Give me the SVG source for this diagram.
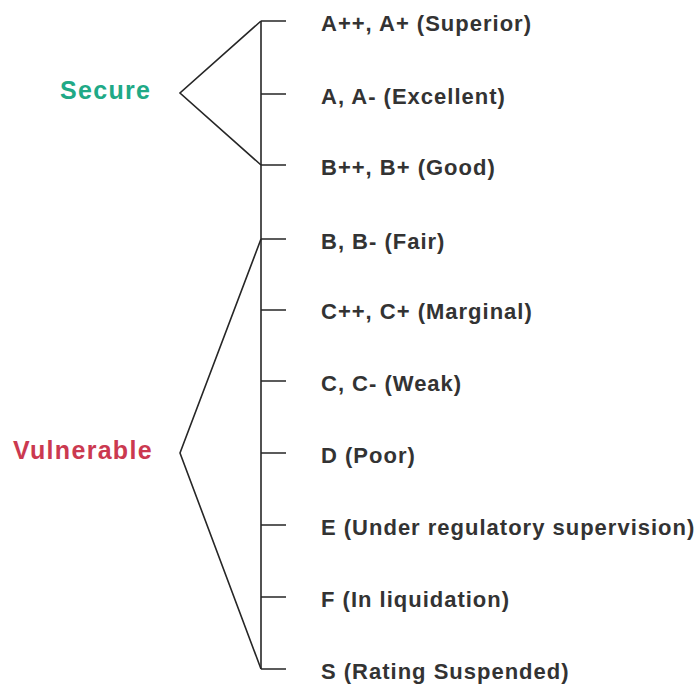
<svg xmlns="http://www.w3.org/2000/svg" width="699" height="684" viewBox="0 0 699 684">
<style>
.ln{stroke:#262626;stroke-width:1.6;fill:none}
.t{font-family:"Liberation Sans",Arial,sans-serif;font-weight:bold;font-size:22px;letter-spacing:1px;fill:#333}
.g{font-family:"Liberation Sans",Arial,sans-serif;font-weight:bold;font-size:25px;letter-spacing:1.3px}
</style>
<rect width="699" height="684" fill="#fff"/>
<g id="connectors">
<path class="ln" d="M261 21V669"/>
<path class="ln" d="M261 21H286M261 94H286M261 165H286M261 239H286M261 310H286M261 381H286M261 453H286M261 525H286M261 597H286M261 669H286"/>
<path class="ln" d="M261 21L180 93L261 165"/>
<path class="ln" d="M261 239L180 453L261 669"/>
</g>
<g id="secure"><text class="g" x="60" y="99" fill="#20a986">Secure</text></g>
<g id="vulnerable"><text class="g" x="13" y="459" fill="#cb3950">Vulnerable</text></g>
<g id="r1"><text class="t" x="321" y="31">A++, A+ (Superior)</text></g>
<g id="r2"><text class="t" x="321" y="104">A, A- (Excellent)</text></g>
<g id="r3"><text class="t" x="321" y="175">B++, B+ (Good)</text></g>
<g id="r4"><text class="t" x="321" y="249">B, B- (Fair)</text></g>
<g id="r5"><text class="t" x="321" y="319">C++, C+ (Marginal)</text></g>
<g id="r6"><text class="t" x="321" y="390.5">C, C- (Weak)</text></g>
<g id="r7"><text class="t" x="321" y="462.5">D (Poor)</text></g>
<g id="r8"><text class="t" x="321" y="534.5">E (Under regulatory supervision)</text></g>
<g id="r9"><text class="t" x="321" y="606.5">F (In liquidation)</text></g>
<g id="r10"><text class="t" x="321" y="678.5">S (Rating Suspended)</text></g>
</svg>
